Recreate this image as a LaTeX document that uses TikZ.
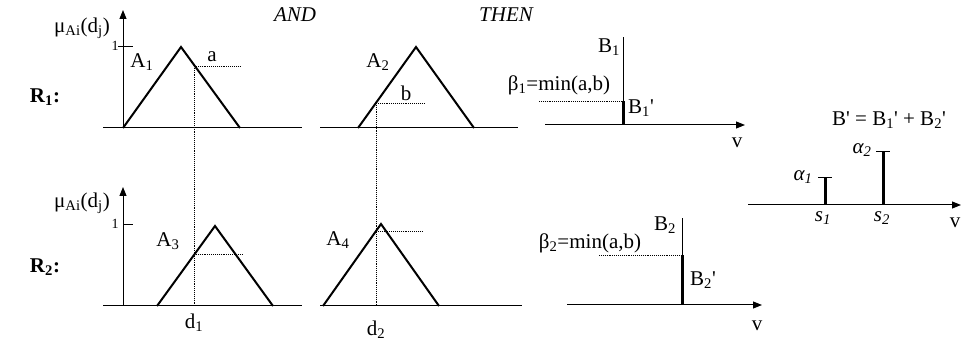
\documentclass[tikz,border=0pt]{standalone}
\usepackage{fontspec}
\setmainfont{Liberation Serif}
\usetikzlibrary{arrows.meta}
\tikzset{
  axis/.style={line width=1pt},
  mf/.style={line width=2pt, line join=miter},
  guide/.style={line width=0.9pt, densely dotted},
  spike/.style={line width=3pt},
  lab/.style={font=\fontsize{21}{24}\selectfont, inner sep=0pt},
  small/.style={font=\fontsize{14}{16}\selectfont, inner sep=0pt},
  tip/.style={-{Triangle[length=9pt,width=7pt]}},
}
\newcommand\sbs[1]{\textsubscript{#1}}
\newcommand\qq{\textquotesingle}
\begin{document}
\begin{tikzpicture}[x=1pt,y=-1pt]
\useasboundingbox (0,0) rectangle (961,347);

% ---------- R1, antecedent 1 ----------
\draw[axis] (103,128) -- (302,128);
\draw[axis,tip] (123,128) -- (123,10);
\draw[axis] (118,47) -- (133,47);
\draw[mf] (123,128) -- (181,47) -- (240,128);
\draw[guide] (194,66) -- (240,66);
\draw[guide] (194,66) -- (194,306);
\node[lab] (mu1) at (82,28) {μ\sbs{Ai}(d\sbs{j})};
\node[small] (one1) at (115,46) {1};
\node[lab] (A1) at (142,62) {A\sbs{1}};
\node[lab] (a) at (212,57) {a};
\node[lab] (R1) at (45,97) {\textbf{R\sbs{1}:}};
\node[lab] (AND) at (295,15) {\itshape AND};
\node[lab] (THEN) at (506,15) {\itshape THEN};

% ---------- R1, antecedent 2 ----------
\draw[axis] (320,128) -- (518,128);
\draw[mf] (358,128) -- (416,47) -- (474,128);
\draw[guide] (376,103) -- (424,103);
\draw[guide] (376,103) -- (376,306);
\node[lab] (A2) at (378,62) {A\sbs{2}};
\node[lab] (b) at (406,93) {b};

% ---------- R1, consequent ----------
\draw[axis,tip] (545,125) -- (745,125);
\draw[axis] (623,125) -- (623,37);
\draw[spike] (623,125) -- (623,101);
\draw[guide] (539,101) -- (623,101);
\node[lab] (B1) at (609,47) {B\sbs{1}};
\node[lab] (beta1) at (559,85) {β\sbs{1}=min(a,b)};
\node[lab] (B1p) at (641,108) {B\sbs{1}\qq};
\node[lab] (v1) at (737,143) {v};

% ---------- R2, antecedent 1 ----------
\draw[axis] (103,306) -- (302,306);
\draw[axis,tip] (123,306) -- (123,187);
\draw[axis] (123,225) -- (133,225);
\draw[mf] (157,306) -- (215,226) -- (273,306);
\draw[guide] (194,254) -- (242,254);
\node[lab] (mu2) at (82,203) {μ\sbs{Ai}(d\sbs{j})};
\node[small] (one2) at (115,224) {1};
\node[lab] (A3) at (168,241) {A\sbs{3}};
\node[lab] (R2) at (45,267) {\textbf{R\sbs{2}:}};
\node[lab] (d1) at (194,323) {d\sbs{1}};

% ---------- R2, antecedent 2 ----------
\draw[axis] (320,306) -- (522,306);
\draw[mf] (323,306) -- (381,224) -- (439,306);
\draw[guide] (376,231) -- (423,231);
\node[lab] (A4) at (338,240) {A\sbs{4}};
\node[lab] (d2) at (376,330) {d\sbs{2}};

% ---------- R2, consequent ----------
\draw[axis,tip] (567,305) -- (762,305);
\draw[axis] (682,305) -- (682,218);
\draw[spike] (682,305) -- (682,255);
\draw[guide] (599,255) -- (682,255);
\node[lab] (B2) at (665,225) {B\sbs{2}};
\node[lab] (beta2) at (590,243) {β\sbs{2}=min(a,b)};
\node[lab] (B2p) at (703,280) {B\sbs{2}\qq};
\node[lab] (v2) at (757,326) {v};

% ---------- aggregated output ----------
\draw[axis,tip] (748,205) -- (961,205);
\draw[spike] (825,205) -- (825,178);
\draw[axis] (818,178) -- (832,178);
\draw[spike] (883,205) -- (883,152);
\draw[axis] (876,152) -- (890,152);
\node[lab] (alpha1) at (803,177) {\itshape α\sbs{1}};
\node[lab] (alpha2) at (862,150) {\itshape α\sbs{2}};
\node[lab] (s1) at (823,218) {\itshape s\sbs{1}};
\node[lab] (s2) at (882,218) {\itshape s\sbs{2}};
\node[lab] (v3) at (955,223) {v};
\node[lab] (Bsum) at (889,120) {B\qq{} = B\sbs{1}\qq{} + B\sbs{2}\qq};
\end{tikzpicture}
\end{document}
